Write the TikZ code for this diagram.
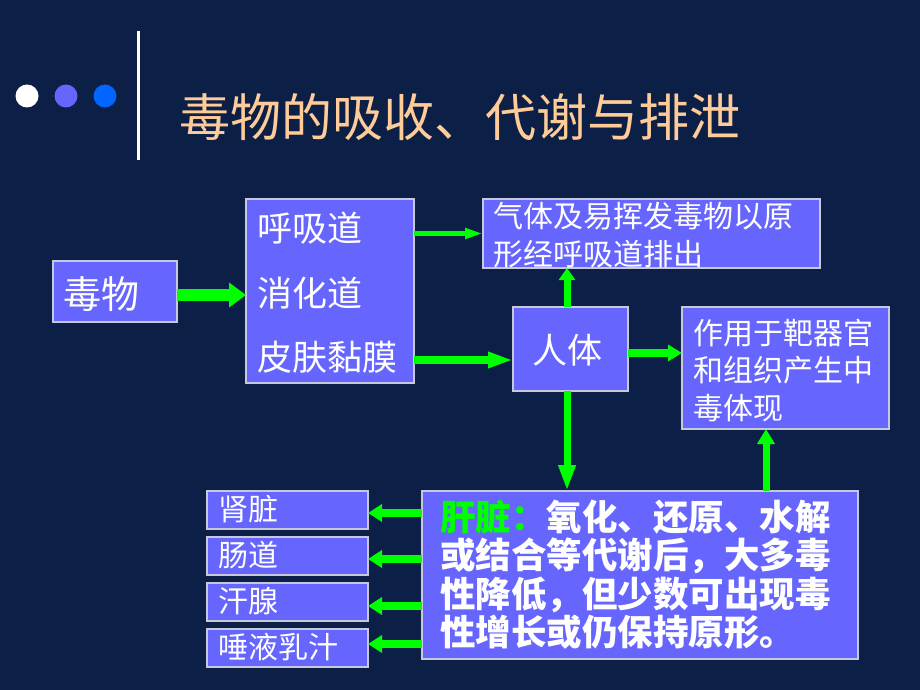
\documentclass[tikz,border=0pt]{standalone}
\usepackage{fontspec}
\newfontfamily\cjk{Noto Sans CJK SC}
\usetikzlibrary{arrows.meta}
\definecolor{bg}{HTML}{0C1F46}
\definecolor{boxfill}{HTML}{6666FF}
\definecolor{edge}{HTML}{C8C8DC}
\definecolor{arrgreen}{HTML}{00FF00}
\definecolor{titlec}{HTML}{FFCC99}
\definecolor{dotp}{HTML}{6666FF}
\definecolor{dotb}{HTML}{0066FF}
\begin{document}
\begin{tikzpicture}[x=1pt,y=-1pt,
  box/.style={draw=edge, line width=1.1pt, fill=boxfill, anchor=north west, inner sep=0pt, outer sep=0pt},
  txt/.style 2 args={text=white, anchor=west, inner sep=0pt, align=left, font={\cjk\fontsize{#1}{#2}\selectfont}},
  arr/.style n args={3}{draw=arrgreen, fill=arrgreen, line width=#1, -{Triangle[length=#2, width=#3]}}
]
\useasboundingbox (0,0) rectangle (920,690);
\fill[bg] (0,0) rectangle (920,690);

% header
\fill[white] (27,96) circle (11.5);
\fill[dotp] (66,96) circle (11.5);
\fill[dotb] (105,96) circle (11.5);
\coordinate (vl1) at (138,31);
\coordinate (vl2) at (138,160);
\draw[white, line width=3pt] (vl1) -- (vl2);
\node[anchor=west, inner sep=0pt, text=titlec, font={\cjk\fontsize{51}{55}\selectfont}] (title) at (179,117) {毒物的吸收、代谢与排泄};

% boxes
\node[box, minimum width=124pt, minimum height=61pt] (dw) at (53,261) {};
\node[box, minimum width=168pt, minimum height=184pt] (hx) at (246,199) {};
\node[box, minimum width=337pt, minimum height=69pt] (qt) at (483,199) {};
\node[box, minimum width=115pt, minimum height=84pt] (rt) at (513,307) {};
\node[box, minimum width=207pt, minimum height=122pt] (zy) at (682,307) {};
\node[box, minimum width=436pt, minimum height=168pt] (gz) at (422,491) {};
\node[box, minimum width=161pt, minimum height=38pt] (s1) at (207,491) {};
\node[box, minimum width=161pt, minimum height=38pt] (s2) at (207,537) {};
\node[box, minimum width=161pt, minimum height=38pt] (s3) at (207,583) {};
\node[box, minimum width=161pt, minimum height=38pt] (s4) at (207,629) {};

% texts
\node[txt={38}{42}] (tdw) at (63,294) {毒物};
\node[txt={35}{40}] (th1) at (257,228) {呼吸道};
\node[txt={35}{40}] (th2) at (257,293) {消化道};
\node[txt={35}{40}] (th3) at (257,357) {皮肤黏膜};
\node[txt={30}{38}] (tqt) at (493,235) {气体及易挥发毒物以原\\形经呼吸道排出};
\node[txt={35}{40}, anchor=center] (trt) at (567,350) {人体};
\node[txt={30}{37.5}] (tzy) at (693,370.5) {作用于靶器官\\和组织产生中\\毒体现};
\node[txt={35.5}{38.3}, font={\cjk\bfseries\fontsize{35.5}{38.3}\selectfont}] (tgz) at (440,574.5) {{\color{arrgreen}肝脏：}氧化、还原、水解\\或结合等代谢后，大多毒\\性降低，但少数可出现毒\\性增长或仍保持原形。};
\node[txt={30}{36}] (ts1) at (218,509) {肾脏};
\node[txt={30}{36}] (ts2) at (218,555) {肠道};
\node[txt={30}{36}] (ts3) at (218,601) {汗腺};
\node[txt={30}{36}] (ts4) at (218,647) {唾液乳汁};

% arrow guide coordinates
\coordinate (a1) at (0,295);
\coordinate (a2) at (0,233.5);
\coordinate (a3) at (0,360);
\coordinate (a4) at (567,0);
\coordinate (a5) at (0,353);
\coordinate (a7) at (766,0);
\coordinate (b1) at (0,513);
\coordinate (b2) at (0,559);
\coordinate (b3) at (0,606);
\coordinate (b4) at (0,644);

% arrows
\draw[arr={12pt}{17pt}{24pt}] (dw.east |- a1) -- (hx.west |- a1);
\draw[arr={5pt}{18pt}{10pt}] (hx.east |- a2) -- (qt.west |- a2);
\draw[arr={7.5pt}{25pt}{15pt}] (hx.east |- a3) -- (rt.west |- a3);
\draw[arr={7pt}{12pt}{16pt}] (a4 |- rt.north) -- (a4 |- qt.south);
\draw[arr={8pt}{14pt}{16pt}] (rt.east |- a5) -- (zy.west |- a5);
\draw[arr={7pt}{26pt}{16pt}] (a4 |- rt.south) -- (a4 |- gz.north);
\draw[arr={7pt}{15pt}{17pt}] (a7 |- gz.north) -- (a7 |- zy.south);
\draw[arr={8pt}{14pt}{17pt}] (gz.west |- b1) -- (s1.east |- b1);
\draw[arr={8pt}{14pt}{17pt}] (gz.west |- b2) -- (s2.east |- b2);
\draw[arr={8pt}{14pt}{17pt}] (gz.west |- b3) -- (s3.east |- b3);
\draw[arr={8pt}{14pt}{17pt}] (gz.west |- b4) -- (s4.east |- b4);
\end{tikzpicture}
\end{document}
